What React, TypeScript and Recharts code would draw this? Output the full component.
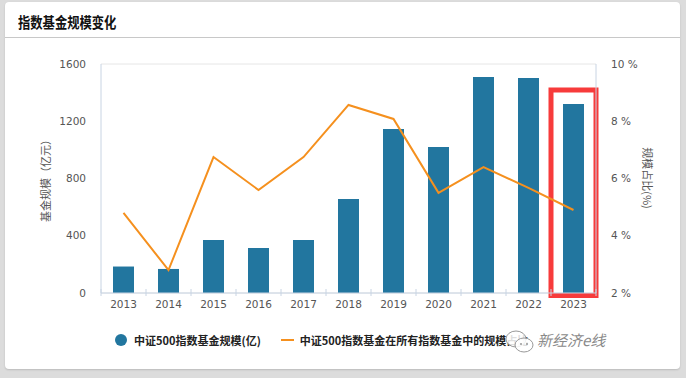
import {
  Bar,
  CartesianGrid,
  ComposedChart,
  Line,
  ReferenceArea,
  XAxis,
  YAxis,
} from "recharts";

const years = ["2013", "2014", "2015", "2016", "2017", "2018", "2019", "2020", "2021", "2022", "2023"];
const fundSize = [185, 168, 370, 314, 370, 657, 1146, 1020, 1509, 1502, 1320];
const sizeShare = [4.8, 2.8, 6.75, 5.6, 6.75, 8.57, 8.08, 5.5, 6.4, 5.67, 4.9];
const leftTicks = [0, 400, 800, 1200, 1600];
const rightTicks = [2, 4, 6, 8, 10];

const data = years.map((year, i) => ({
  year,
  size: fundSize[i],
  share: sizeShare[i],
}));

const BAR = "#22769f";
const LINE = "#f5901e";
const AXIS = "#c8d4e3";
const TICK = { fontSize: 10.5, fill: "#555", fontFamily: "DejaVu Sans" };
const CJK = "'Noto Sans CJK SC', sans-serif";

function YearTick(props: any) {
  const { x, y, payload, index } = props;
  const half = payload?.offset ?? 22.5;
  return (
    <g>
      <line x1={x - half} x2={x - half} y1={y - 6} y2={y + 1} stroke={AXIS} />
      {index === years.length - 1 && (
        <line x1={x + half} x2={x + half} y1={y - 6} y2={y + 1} stroke={AXIS} />
      )}
      <text x={x} y={y + 13} textAnchor="middle" {...TICK}>
        {payload.value}
      </text>
    </g>
  );
}

export default function App() {
  return (
    <div
      style={{
        position: "absolute",
        left: 0,
        top: 0,
        width: 686,
        height: 378,
        background: "#dcdcdc",
        overflow: "hidden",
      }}
    >
      <div
        style={{
          position: "absolute",
          left: 5,
          top: 2,
          width: 675,
          height: 367,
          background: "#fff",
          borderRadius: 4,
          boxShadow: "0 1px 2px rgba(0,0,0,0.15)",
        }}
      />
      <div
        style={{
          position: "absolute",
          left: 18,
          top: 12,
          fontFamily: CJK,
          fontWeight: 700,
          fontSize: 15,
          lineHeight: "20px",
          color: "#111",
          transform: "scaleX(0.82)",
          transformOrigin: "left center",
          whiteSpace: "nowrap",
        }}
      >
        指数基金规模变化
      </div>
      <div style={{ position: "absolute", left: 5, top: 37, width: 675, height: 1, background: "#c8c8c8" }} />

      <div style={{ position: "absolute", left: 0, top: 0 }}>
        <ComposedChart
          width={686}
          height={378}
          data={data}
          margin={{ top: 64, right: 30, bottom: 55, left: 41 }}
        >
          <CartesianGrid vertical={false} stroke="#e6e6e6" />
          <XAxis
            dataKey="year"
            height={30}
            axisLine={{ stroke: AXIS }}
            tickLine={false}
            tickSize={0}
            interval={0}
            tick={<YearTick />}
          />
          <YAxis
            yAxisId="left"
            width={60}
            domain={[0, 1600]}
            ticks={leftTicks}
            axisLine={{ stroke: AXIS }}
            tickLine={false}
            tickSize={0}
            tickMargin={15}
            tick={TICK}
          />
          <YAxis
            yAxisId="right"
            orientation="right"
            width={60}
            domain={[2, 10]}
            ticks={rightTicks}
            axisLine={{ stroke: AXIS }}
            tickLine={false}
            tickSize={0}
            tickMargin={15}
            tick={TICK}
            tickFormatter={(v) => `${v} %`}
          />
          <Bar yAxisId="left" dataKey="size" fill={BAR} barSize={21} isAnimationActive={false} />
          <Line
            yAxisId="right"
            dataKey="share"
            stroke={LINE}
            strokeWidth={2}
            dot={false}
            isAnimationActive={false}
          />
          <ReferenceArea
            yAxisId="left"
            x1="2023"
            x2="2023"
            y1={-18}
            y2={1418}
            fill="none"
            stroke="#f73b3b"
            strokeWidth={5}
            fillOpacity={0}
            ifOverflow="visible"
          />
        </ComposedChart>
      </div>

      <div
        style={{
          position: "absolute",
          left: 45,
          top: 178,
          transform: "translate(-50%, -50%) rotate(-90deg)",
          fontFamily: CJK,
          fontSize: 11,
          color: "#555",
          whiteSpace: "nowrap",
        }}
      >
        基金规模（亿元）
      </div>
      <div
        style={{
          position: "absolute",
          left: 648,
          top: 178,
          transform: "translate(-50%, -50%) rotate(90deg)",
          fontFamily: CJK,
          fontSize: 11,
          color: "#555",
          whiteSpace: "nowrap",
        }}
      >
        规模占比(%)
      </div>

      <div
        style={{
          position: "absolute",
          left: 115,
          top: 331,
          display: "flex",
          alignItems: "center",
          fontFamily: CJK,
          fontSize: 11,
          fontWeight: 700,
          color: "#222",
          whiteSpace: "nowrap",
          lineHeight: "18px",
        }}
      >
        <span style={{ width: 12, height: 12, borderRadius: 6, background: BAR, marginRight: 7 }} />
        <span>中证500指数基金规模(亿)</span>
        <span style={{ width: 13, height: 2, background: LINE, marginLeft: 20, marginRight: 6 }} />
        <span>中证500指数基金在所有指数基金中的规模占比</span>
      </div>

      <svg style={{ position: "absolute", left: 504, top: 328 }} width={32} height={28}>
        <ellipse cx={12} cy={11} rx={10} ry={8} fill="rgba(255,255,255,0.85)" stroke="#999" />
        <ellipse cx={20} cy={17} rx={9} ry={7} fill="rgba(255,255,255,0.85)" stroke="#999" />
        <circle cx={17} cy={16} r={1} fill="#999" />
        <circle cx={23} cy={16} r={1} fill="#999" />
      </svg>
      <div
        style={{
          position: "absolute",
          left: 537,
          top: 330,
          fontFamily: CJK,
          fontSize: 15,
          fontStyle: "italic",
          color: "#8a8a8a",
          whiteSpace: "nowrap",
          lineHeight: "20px",
        }}
      >
        新经济e线
      </div>
    </div>
  );
}
